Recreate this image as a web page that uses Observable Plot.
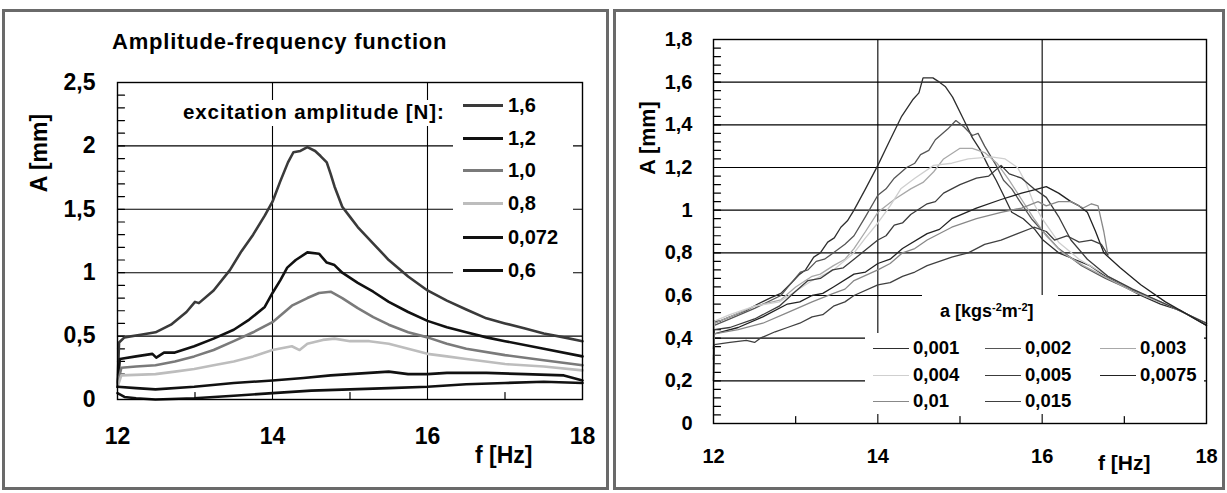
<!DOCTYPE html>
<html><head><meta charset="utf-8">
<script src="https://cdn.jsdelivr.net/npm/d3@7"></script>
<script src="https://cdn.jsdelivr.net/npm/@observablehq/plot@0.6"></script>
<style>
body{margin:0;background:#fff;font-family:"Liberation Sans",Arial,sans-serif;}
#root{position:relative;width:1227px;height:493px;overflow:hidden;background:#fff;}
.frame{position:absolute;border:3px solid #6a6a6a;box-sizing:border-box;}
.abs{position:absolute;white-space:nowrap;font-weight:bold;color:#000;line-height:1;}
.svgbox{position:absolute;top:0;}
.lg{position:absolute;background:#fff;}
.row{position:absolute;display:flex;align-items:center;font-weight:bold;white-space:nowrap;}
.sw{display:inline-block;}
</style></head><body><div id="root"></div>
<script>
// ---------- LEFT CHART DATA ----------
const leftNames = ["1,6", "1,2", "1,0", "0,8", "0,072", "0,6"];
const leftColors = ["#3a3a3a", "#111111", "#7a7a7a", "#bdbdbd", "#111111", "#111111"];
const leftXTicks = [12, 14, 16, 18];
const leftYTicks = [0, 0.5, 1, 1.5, 2, 2.5];
const leftGridY = [0.5, 1, 1.5, 2];
const gridX = [14, 16];
const minorX = [13, 15, 17];

const l16 = [[12,0.1],[12.02,0.45],[12.09,0.49],[12.3,0.51],[12.49,0.53],[12.69,0.59],[12.89,0.69],[13.0,0.77],[13.05,0.76],[13.24,0.86],[13.45,1.02],[13.6,1.17],[13.75,1.3],[13.9,1.45],[14.0,1.56],[14.1,1.72],[14.2,1.87],[14.27,1.95],[14.36,1.96],[14.45,1.99],[14.55,1.96],[14.62,1.92],[14.7,1.87],[14.75,1.78],[14.8,1.68],[14.9,1.52],[15.0,1.44],[15.1,1.36],[15.3,1.23],[15.5,1.1],[15.75,0.97],[16.0,0.86],[16.25,0.78],[16.5,0.71],[16.76,0.64],[17.0,0.6],[17.26,0.56],[17.5,0.52],[17.76,0.49],[18.0,0.46]];
const l12 = [[12,0.1],[12.03,0.32],[12.24,0.34],[12.45,0.36],[12.5,0.33],[12.6,0.37],[12.74,0.37],[12.99,0.42],[13.24,0.48],[13.5,0.55],[13.7,0.63],[13.9,0.73],[14.0,0.84],[14.1,0.94],[14.19,1.04],[14.3,1.1],[14.45,1.16],[14.6,1.15],[14.7,1.08],[14.8,1.06],[14.9,1.0],[15.1,0.92],[15.3,0.85],[15.5,0.77],[15.75,0.69],[16.0,0.62],[16.25,0.57],[16.5,0.53],[16.76,0.49],[17.0,0.46],[17.5,0.4],[18.0,0.34]];
const l10 = [[12,0.12],[12.05,0.25],[12.24,0.26],[12.49,0.27],[12.74,0.3],[12.99,0.34],[13.24,0.39],[13.5,0.46],[13.75,0.53],[14.0,0.61],[14.25,0.74],[14.45,0.8],[14.6,0.84],[14.75,0.85],[14.9,0.8],[15.1,0.72],[15.3,0.65],[15.5,0.59],[15.75,0.53],[16.0,0.49],[16.25,0.44],[16.5,0.4],[17.0,0.35],[17.5,0.31],[18.0,0.27]];
const l08 = [[12,0.1],[12.05,0.19],[12.49,0.2],[12.74,0.22],[12.99,0.24],[13.24,0.27],[13.5,0.3],[13.75,0.34],[14.0,0.39],[14.25,0.42],[14.35,0.39],[14.45,0.44],[14.65,0.47],[14.8,0.48],[15.0,0.46],[15.25,0.46],[15.5,0.44],[15.75,0.4],[16.0,0.36],[16.25,0.34],[16.5,0.32],[17.0,0.28],[17.5,0.26],[18.0,0.23]];
const l0072 = [[12,0.05],[12.09,0.02],[12.24,0.01],[12.49,0.0],[12.99,0.01],[13.5,0.03],[14.0,0.05],[14.5,0.07],[15.0,0.08],[15.5,0.09],[16.0,0.1],[16.5,0.12],[17.0,0.13],[17.5,0.14],[18.0,0.13]];
const l06 = [[12,0.1],[12.24,0.09],[12.49,0.08],[12.99,0.1],[13.5,0.13],[14.0,0.15],[14.4,0.17],[14.75,0.19],[15.25,0.21],[15.5,0.22],[15.75,0.2],[16.0,0.2],[16.25,0.21],[16.76,0.21],[17.26,0.2],[17.76,0.19],[18.0,0.15]];
const leftData = [l16, l12, l10, l08, l0072, l06];

// ---------- RIGHT CHART DATA ----------
const rightNames = ["0,001", "0,002", "0,003", "0,004", "0,005", "0,0075", "0,01", "0,015"];
const rightColors = ["#2e2e2e", "#555555", "#a8a8a8", "#cfcfcf", "#3c3c3c", "#222222", "#888888", "#404040"];
const rightXTicks = [12, 14, 16, 18];
const rightYTicks = [0, 0.2, 0.4, 0.6, 0.8, 1, 1.2, 1.4, 1.6, 1.8];
const rightGridY = [0.2, 0.4, 0.6, 0.8, 1, 1.2, 1.4, 1.6];

const r001 = [[12,0.2],[12.01,0.47],[12.2,0.5],[12.4,0.53],[12.54,0.56],[12.7,0.59],[12.82,0.61],[12.95,0.66],[13.05,0.7],[13.12,0.72],[13.22,0.78],[13.3,0.8],[13.39,0.85],[13.47,0.87],[13.55,0.92],[13.63,0.95],[13.71,1.0],[13.85,1.1],[14.0,1.21],[14.15,1.33],[14.29,1.44],[14.43,1.52],[14.5,1.55],[14.55,1.62],[14.67,1.62],[14.75,1.6],[14.82,1.58],[14.91,1.53],[15.05,1.42],[15.15,1.34],[15.25,1.28],[15.34,1.21],[15.44,1.14],[15.53,1.07],[15.63,0.99],[15.77,0.96],[15.91,0.91],[16.01,0.86],[16.2,0.8],[16.39,0.77],[16.58,0.74],[16.77,0.69],[16.96,0.65],[17.2,0.6],[17.44,0.56],[17.68,0.53],[18,0.46]];
const r002 = [[12,0.3],[12.01,0.46],[12.2,0.49],[12.5,0.54],[12.82,0.6],[12.95,0.66],[13.06,0.71],[13.15,0.72],[13.25,0.76],[13.35,0.77],[13.46,0.8],[13.6,0.84],[13.71,0.88],[13.85,0.97],[14.0,1.07],[14.1,1.1],[14.2,1.15],[14.35,1.2],[14.45,1.22],[14.52,1.26],[14.62,1.28],[14.7,1.33],[14.85,1.38],[14.95,1.42],[15.05,1.39],[15.15,1.35],[15.22,1.36],[15.3,1.3],[15.44,1.21],[15.53,1.14],[15.63,1.1],[15.73,1.04],[15.87,0.96],[16.01,0.9],[16.2,0.82],[16.48,0.74],[16.77,0.68],[17.06,0.63],[17.44,0.57],[18,0.47]];
const r003 = [[12,0.35],[12.01,0.47],[12.2,0.5],[12.5,0.55],[12.82,0.58],[13.0,0.64],[13.2,0.69],[13.3,0.7],[13.46,0.74],[13.6,0.77],[13.71,0.82],[13.85,0.9],[14.0,0.99],[14.2,1.05],[14.4,1.1],[14.55,1.13],[14.68,1.18],[14.8,1.24],[15.0,1.29],[15.15,1.29],[15.3,1.27],[15.45,1.22],[15.6,1.14],[15.75,1.05],[15.9,0.96],[16.05,0.88],[16.25,0.8],[16.5,0.74],[16.8,0.68],[17.1,0.62],[17.5,0.56],[18,0.47]];
const r004 = [[12,0.4],[12.01,0.48],[12.2,0.51],[12.5,0.55],[12.8,0.57],[13.0,0.62],[13.2,0.67],[13.46,0.72],[13.71,0.8],[13.85,0.87],[14.0,0.94],[14.15,1.02],[14.28,1.1],[14.45,1.15],[14.68,1.21],[14.9,1.22],[15.1,1.24],[15.38,1.25],[15.55,1.24],[15.7,1.2],[15.8,1.13],[15.9,1.03],[16.0,0.96],[16.2,0.85],[16.45,0.77],[16.8,0.69],[17.1,0.63],[17.5,0.56],[18,0.47]];
const r005 = [[12,0.3],[12.01,0.44],[12.2,0.45],[12.5,0.49],[12.8,0.55],[13.0,0.62],[13.15,0.67],[13.3,0.68],[13.45,0.72],[13.58,0.73],[13.71,0.77],[14.0,0.86],[14.1,0.88],[14.2,0.93],[14.3,0.94],[14.4,0.98],[14.6,1.03],[14.7,1.04],[14.8,1.08],[15.0,1.12],[15.2,1.15],[15.35,1.16],[15.5,1.21],[15.6,1.17],[15.75,1.15],[15.9,1.1],[16.05,1.06],[16.2,0.97],[16.35,0.86],[16.55,0.77],[16.8,0.69],[17.1,0.63],[17.5,0.56],[18,0.47]];
const r0075 = [[12,0.35],[12.01,0.42],[12.3,0.45],[12.6,0.5],[12.9,0.56],[13.05,0.57],[13.2,0.6],[13.33,0.61],[13.46,0.64],[13.71,0.7],[13.85,0.71],[14.0,0.75],[14.15,0.77],[14.3,0.82],[14.6,0.89],[14.75,0.91],[14.9,0.96],[15.2,1.01],[15.5,1.05],[15.75,1.08],[15.95,1.1],[16.05,1.11],[16.2,1.08],[16.35,1.04],[16.45,1.02],[16.55,0.99],[16.65,0.9],[16.75,0.8],[16.95,0.73],[17.2,0.65],[17.5,0.57],[18,0.46]];
const r01 = [[12,0.25],[12.01,0.42],[12.3,0.44],[12.6,0.47],[12.9,0.52],[13.2,0.57],[13.46,0.61],[13.6,0.63],[13.71,0.67],[14.0,0.72],[14.15,0.75],[14.3,0.8],[14.45,0.82],[14.6,0.86],[14.9,0.92],[15.2,0.96],[15.5,0.99],[15.75,1.01],[15.95,1.04],[16.05,1.02],[16.2,1.04],[16.35,1.04],[16.5,1.01],[16.6,1.03],[16.68,1.02],[16.75,0.9],[16.8,0.79]];
const r015 = [[12,0.2],[12.01,0.37],[12.2,0.38],[12.4,0.39],[12.5,0.38],[12.57,0.4],[12.75,0.43],[12.9,0.45],[13.05,0.47],[13.2,0.5],[13.33,0.51],[13.46,0.55],[13.6,0.57],[13.71,0.6],[14.0,0.65],[14.15,0.66],[14.3,0.69],[14.45,0.71],[14.6,0.74],[14.9,0.78],[15.1,0.8],[15.3,0.84],[15.5,0.86],[15.7,0.89],[15.9,0.92],[16.05,0.9],[16.15,0.86],[16.3,0.88],[16.45,0.85],[16.6,0.86],[16.72,0.84],[16.8,0.79]];
const rightData = [r001, r002, r003, r004, r005, r0075, r01, r015];

// ---------- BUILD ----------
const comma = d => String(d).replace(".", ",");
const FONT = '"Liberation Sans", Arial, sans-serif';
const root = document.getElementById("root");
const lineShape = {draw(context, l) { context.moveTo(0, 0); context.lineTo(0, -l); }};

function table(names, data) {
  return names.flatMap((n, i) => data[i].map(([f, a]) => ({series: n, f, a})));
}

function addFrame(l, t, w, h) {
  const d = document.createElement("div");
  d.className = "frame";
  Object.assign(d.style, {left: l + "px", top: t + "px", width: w + "px", height: h + "px"});
  root.appendChild(d);
}
addFrame(2, 9, 607, 481);
addFrame(613, 9, 612, 481);

function minorTicks(yMinor) {
  return [
    Plot.vector(yMinor, {y: d => d, frameAnchor: "left", length: 7, rotate: 90, anchor: "start", shape: lineShape, stroke: "#000", strokeWidth: 1.2}),
    Plot.vector(minorX, {x: d => d, frameAnchor: "bottom", length: 7, rotate: 0, anchor: "start", shape: lineShape, stroke: "#000", strokeWidth: 1.2})
  ];
}

const leftPlot = Plot.plot({
  width: 610, height: 493,
  marginLeft: 117, marginRight: 28, marginTop: 82, marginBottom: 94,
  style: {fontFamily: FONT, fontWeight: "bold", fontSize: "23px", background: "transparent", color: "#000"},
  x: {domain: [12, 18]},
  y: {domain: [0, 2.5]},
  color: {domain: leftNames, range: leftColors},
  marks: [
    Plot.ruleY(leftGridY, {stroke: "#000", strokeWidth: 1.1}),
    Plot.ruleX(gridX, {stroke: "#000", strokeWidth: 1.1}),
    ...minorTicks(d3.range(1, 25).map(i => i / 10)),
    Plot.axisY(leftYTicks, {tickSize: 0, tickPadding: 22, tickFormat: comma, label: null, fontSize: 23, fontWeight: "bold"}),
    Plot.axisX(leftXTicks, {tickSize: 0, tickPadding: 28, label: null, fontSize: 23, fontWeight: "bold"}),
    Plot.line(table(leftNames, leftData), {x: "f", y: "a", z: "series", stroke: "series", strokeWidth: 2.6, strokeLinejoin: "round"}),
    Plot.frame({stroke: "#000", strokeWidth: 1.4})
  ]
});
leftPlot.classList.add("svgbox");
leftPlot.style.left = "0px";
root.appendChild(leftPlot);

const rightPlot = Plot.plot({
  width: 617, height: 493,
  marginLeft: 103, marginRight: 21, marginTop: 39, marginBottom: 70,
  style: {fontFamily: FONT, fontWeight: "bold", fontSize: "20px", background: "transparent", color: "#000"},
  x: {domain: [12, 18]},
  y: {domain: [0, 1.8]},
  color: {domain: rightNames, range: rightColors},
  marks: [
    Plot.ruleY(rightGridY, {stroke: "#000", strokeWidth: 1.1}),
    Plot.ruleX(gridX, {stroke: "#000", strokeWidth: 1.1}),
    ...minorTicks(d3.range(1, 45).map(i => i * 0.04)),
    Plot.axisY(rightYTicks, {tickSize: 0, tickPadding: 21, tickFormat: comma, label: null, fontSize: 20, fontWeight: "bold"}),
    Plot.axisX(rightXTicks, {tickSize: 0, tickPadding: 25, label: null, fontSize: 20, fontWeight: "bold"}),
    Plot.line(table(rightNames, rightData), {x: "f", y: "a", z: "series", stroke: "series", strokeWidth: 1.3, strokeLinejoin: "round"}),
    Plot.frame({stroke: "#000", strokeWidth: 1.4})
  ]
});
rightPlot.classList.add("svgbox");
rightPlot.style.left = "610px";
root.appendChild(rightPlot);

function addText(txt, l, t, size, extra = {}) {
  const d = document.createElement("div");
  d.className = "abs";
  d.innerHTML = txt;
  Object.assign(d.style, {left: l + "px", top: t + "px", fontSize: size + "px"}, extra);
  root.appendChild(d);
  return d;
}
function addBox(l, t, w, h) {
  const d = document.createElement("div");
  d.className = "lg";
  Object.assign(d.style, {left: l + "px", top: t + "px", width: w + "px", height: h + "px"});
  root.appendChild(d);
}

// left titles
addText("Amplitude-frequency function", 112, 31, 22, {letterSpacing: "0.8px"});
addBox(180, 100, 268, 26);
addText("excitation amplitude [N]:", 183, 102, 20.5, {letterSpacing: "0.9px"});
addText("A [mm]", 39, 153, 23, {transform: "translate(-50%,-50%) rotate(-90deg)"});
addText("f [Hz]", 475, 444, 23);

// left legend
addBox(453, 92, 120, 192);
const leftRowsY = [105, 138, 170, 203, 237, 270];
leftNames.forEach((n, i) => {
  const r = document.createElement("div");
  r.className = "row";
  Object.assign(r.style, {left: "463px", top: (leftRowsY[i] - 11) + "px", height: "22px", fontSize: "20px"});
  r.innerHTML = `<span class="sw" style="width:40px;border-top:3px solid ${leftColors[i]};margin-right:5px"></span><span>${n}</span>`;
  root.appendChild(r);
});

// right titles
addText("A [mm]", 649, 138, 21.5, {transform: "translate(-50%,-50%) rotate(-90deg)"});
addText("f [Hz]", 1098, 452, 21);

// right legend
addBox(922, 295, 136, 38);
addBox(865, 333, 339, 81);
addText('a [kgs<sup style="font-size:11px;vertical-align:6px">-2</sup>m<sup style="font-size:11px;vertical-align:6px">-2</sup>]', 940, 302, 18);
const colX = [873, 985, 1100];
const rowY = [348, 375, 401];
rightNames.forEach((n, i) => {
  const r = document.createElement("div");
  r.className = "row";
  Object.assign(r.style, {left: colX[i % 3] + "px", top: (rowY[Math.floor(i / 3)] - 11) + "px", height: "22px", fontSize: "18.5px"});
  r.innerHTML = `<span class="sw" style="width:36px;border-top:1.6px solid ${rightColors[i]};margin-right:4px"></span><span>${n}</span>`;
  root.appendChild(r);
});
</script>
</body></html>
